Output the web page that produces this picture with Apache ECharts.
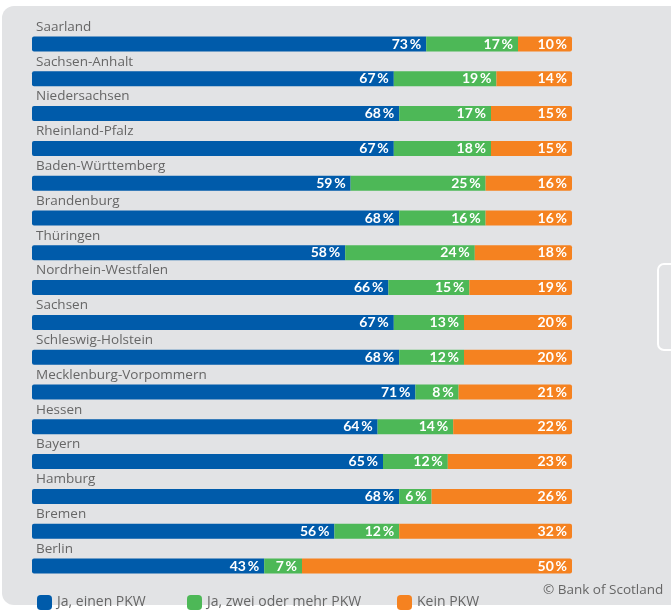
<!DOCTYPE html>
<html><head><meta charset="utf-8">
<script src="https://cdn.jsdelivr.net/npm/echarts@6/dist/echarts.min.js"></script>
<style>html,body{margin:0;padding:0;background:#fff}#c{width:671px;height:610px}</style>
</head><body><div id="c"></div>
<script>
const categories = ["Saarland","Sachsen-Anhalt","Niedersachsen","Rheinland-Pfalz","Baden-Württemberg","Brandenburg","Thüringen","Nordrhein-Westfalen","Sachsen","Schleswig-Holstein","Mecklenburg-Vorpommern","Hessen","Bayern","Hamburg","Bremen","Berlin"];
const einenPKW = [73,67,68,67,59,68,58,66,67,68,71,64,65,68,56,43];
const zweiPKW  = [17,19,17,18,25,16,24,15,13,12,8,14,12,6,12,7];
const keinPKW  = [10,14,15,15,16,16,18,19,20,20,21,22,23,26,32,50];
const seriesNames = ["Ja, einen PKW","Ja, zwei oder mehr PKW","Kein PKW"];
const colors = ["#005BAA","#4DB857","#F58220"];
const FONT = "Open Sans";

const chart = echarts.init(document.getElementById('c'), null, {renderer:'canvas'});
const lbl = {show:true, position:'insideRight', color:'#fff', fontWeight:'bold', fontFamily:'Lato', fontSize:14, distance:5, formatter: p => p.value + '\u2009%'};
function ser(i, data, radius){
  return {name:seriesNames[i], type:'bar', stack:'a', data:data, barWidth:15,
    itemStyle:{color:colors[i], borderRadius:radius}, label:lbl, emphasis:{disabled:true}};
}
const legendBase = {top:590, itemWidth:15, itemHeight:15, icon:'roundRect', selectedMode:false,
  textStyle:{color:'#666', fontFamily:FONT, fontSize:14}, itemGap:8};
chart.setOption({
  animation:false,
  graphic:[
    {type:'rect', z:-10, shape:{x:2,y:6,width:720,height:599,r:12}, style:{fill:'#E2E3E5'}},
    {type:'rect', z:-9, shape:{x:658,y:264,width:30,height:86,r:6}, style:{fill:'none', stroke:'#fff', lineWidth:2}},
    {type:'text', left:543, top:583, style:{text:'© Bank of Scotland', fill:'#666', font:'13.5px "Open Sans"'}}
  ],
  grid:{left:32, right:99, top:26.6, bottom:26.6},
  xAxis:{type:'value', min:0, max:100, show:false},
  yAxis:{type:'category', data:categories, inverse:true,
    axisLine:{show:false}, axisTick:{show:false},
    axisLabel:{inside:true, margin:4, verticalAlign:'bottom', padding:[0,0,10,0],
      color:'#666', fontFamily:FONT, fontSize:13.5}},
  legend:[
    Object.assign({}, legendBase, {left:32, data:[seriesNames[0]]}),
    Object.assign({}, legendBase, {left:182, data:[seriesNames[1]]}),
    Object.assign({}, legendBase, {left:392, data:[seriesNames[2]]})
  ],
  series:[ser(0,einenPKW,[2,0,0,2]), ser(1,zweiPKW,0), ser(2,keinPKW,[0,2,2,0])]
});
</script></body></html>
